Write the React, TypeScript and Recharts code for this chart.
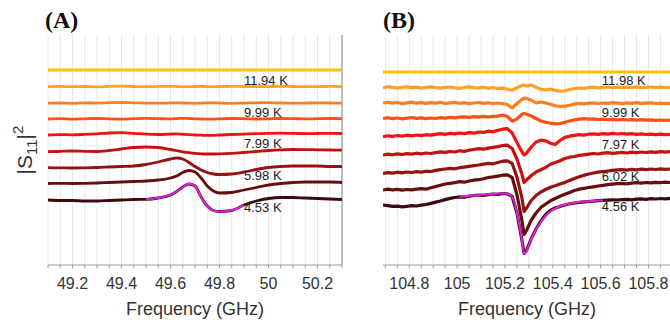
import { LineChart, Line, XAxis, YAxis, CartesianGrid, ReferenceDot } from 'recharts'

const FONT = '"Liberation Sans", Arial, sans-serif'
const COLORS = ['#ffc107', '#ffa028', '#ff7f20', '#ff5014', '#f01414', '#c41010', '#941214', '#670d0f', '#3c0a0a']
const FIT_COLOR = '#e020e0'
const Y_MAX = 230

// ---- panel A (49 GHz mode) ----
const A_FREQ = [49.1, 49.15, 49.2, 49.25, 49.3, 49.35, 49.4, 49.45, 49.5, 49.55, 49.6, 49.625, 49.65, 49.675, 49.7, 49.725, 49.75, 49.775, 49.8, 49.85, 49.9, 49.95, 50.0, 50.05, 50.1, 50.15, 50.2, 50.25, 50.3]
const A_T1 = [195, 195, 195, 195, 195, 195, 195, 195, 195, 195, 195, 195, 195, 195, 195, 195, 195, 195, 195, 195, 195, 195, 195, 195, 195, 195, 195, 195, 195]
const A_T2 = [178.4, 178.6, 178.3, 178.5, 178.2, 178.6, 178.8, 178.5, 178.3, 178.6, 178.7, 178.5, 178.4, 178.3, 178.5, 178.6, 178.4, 178.3, 178.5, 178.7, 178.5, 178.3, 178.4, 178.6, 178.5, 178.3, 178.4, 178.6, 178.5]
const A_T3 = [161.8, 162.0, 161.7, 162.1, 161.9, 162.3, 162.5, 162.2, 161.9, 161.8, 162.1, 162.2, 162.0, 161.8, 161.7, 161.9, 162.1, 162.2, 162.0, 161.7, 161.9, 162.2, 162.3, 162.0, 161.8, 161.9, 162.1, 162.0, 161.9]
const A_T4 = [146.0, 146.3, 145.8, 146.2, 146.5, 146.1, 145.9, 146.3, 146.6, 146.4, 146.1, 146.4, 146.7, 146.5, 146.2, 146.0, 145.8, 145.9, 146.2, 146.5, 146.3, 146.0, 146.2, 146.5, 146.4, 146.1, 146.3, 146.5, 146.3]
const A_T5 = [130.0, 130.4, 130.2, 130.6, 131.2, 132.0, 132.3, 131.6, 130.8, 130.5, 130.9, 131.1, 130.7, 130.3, 130.0, 129.8, 129.6, 129.7, 130.0, 130.5, 130.9, 131.3, 131.6, 131.8, 131.6, 131.4, 131.5, 131.7, 131.5]
const A_T6 = [113.3, 113.6, 114.0, 113.7, 113.5, 114.5, 116.0, 117.5, 118.0, 117.5, 115.5, 114.3, 113.2, 112.3, 111.6, 111.2, 111.0, 111.0, 111.1, 111.6, 112.5, 113.5, 114.5, 115.2, 115.5, 115.4, 115.2, 115.0, 114.8]
const A_T7 = [97.3, 97.1, 97.0, 97.2, 97.5, 98.0, 98.5, 99.0, 100.5, 103.0, 106.0, 107.0, 106.0, 102.5, 98.5, 95.0, 92.5, 91.0, 90.5, 91.0, 93.0, 95.5, 97.5, 98.5, 99.0, 99.0, 99.0, 98.5, 98.5]
const A_T8 = [81.5, 81.6, 81.5, 81.7, 82.0, 82.5, 83.0, 83.5, 84.0, 85.0, 87.0, 89.0, 92.5, 94.5, 93.0, 87.0, 79.0, 74.0, 72.0, 72.5, 75.0, 77.5, 80.0, 81.5, 82.5, 83.0, 83.0, 83.0, 82.5]
const A_T9 = [65.0, 64.5, 64.5, 64.0, 64.0, 64.5, 65.0, 65.5, 65.7, 67.0, 70.0, 73.5, 78.0, 81.0, 79.0, 68.0, 59.0, 54.5, 53.5, 54.5, 60.0, 64.0, 66.5, 67.5, 67.5, 67.0, 66.5, 66.0, 65.5]
const A_FIT = [null, null, null, null, null, null, null, null, 65.7, 67.0, 70.3, 73.5, 78.0, 81.2, 79.0, 68.0, 58.8, 54.3, 53.5, 54.8, 59.5, null, null, null, null, null, null, null, null]
const A_TICKS = [49.1, 49.15, 49.2, 49.25, 49.3, 49.35, 49.4, 49.45, 49.5, 49.55, 49.6, 49.65, 49.7, 49.75, 49.8, 49.85, 49.9, 49.95, 50, 50.05, 50.1, 50.15, 50.2, 50.25, 50.3]
const A_LABELED = [49.2, 49.4, 49.6, 49.8, 50, 50.2]
const A_TEMPS = ['11.94 K', '9.99 K', '7.99 K', '5.98 K', '4.53 K']
const A_TEMP_Y = [185, 153, 122, 90, 58]

// ---- panel B (105 GHz mode) ----
const B_FREQ = [
  104.69, 104.71, 104.73, 104.75, 104.77, 104.79, 104.81, 104.83, 104.85, 104.87,
  104.89, 104.91, 104.93, 104.95, 104.97, 104.99, 105.01, 105.03, 105.05, 105.07,
  105.09, 105.11, 105.13, 105.15, 105.17, 105.19, 105.21, 105.23, 105.25,
  105.27, 105.28,
  105.29, 105.31, 105.33, 105.35, 105.37, 105.39, 105.41, 105.43, 105.45, 105.47,
  105.49, 105.51, 105.53, 105.55, 105.57, 105.59, 105.61, 105.63, 105.65, 105.67,
  105.69, 105.71, 105.73, 105.75, 105.77, 105.79, 105.81, 105.83, 105.85, 105.87, 105.89,
]
const B_T1 = [
  193, 193, 193, 193, 193, 193, 193, 193, 193, 193,
  193, 193, 193, 193, 193, 193, 193, 193, 193, 193,
  193, 193, 193, 193, 193, 193, 193, 193, 193,
  193, 193,
  193, 193, 193, 193, 193, 193, 193, 193, 193, 193,
  193, 193, 193, 193, 193, 193, 193, 193, 193, 193,
  193, 193, 193, 193, 193, 193, 193, 193, 193, 193, 193,
]
const B_T2 = [
  177.2, 178.3, 177.6, 176.9, 177.8, 178.1, 177.3, 177.9, 176.8, 177.6,
  178.2, 177.4, 176.9, 177.7, 178.0, 177.2, 176.6, 177.5, 178.1, 177.3,
  177.0, 177.8, 176.7, 177.4, 176.5, 176.9, 175.8, 174.8, 177.2,
  179.5, 180.2,
  178.8, 180.0, 177.8, 175.6, 175.2, 175.8, 174.6, 173.8, 174.2, 175.5,
  176.4, 177.0, 176.6, 177.3, 177.8, 177.2, 177.6, 178.0, 177.4, 177.8,
  177.3, 177.9, 177.5, 178.1, 177.4, 177.7, 178.0, 177.3, 177.8, 177.5, 177.7,
]
const B_T3 = [
  162.0, 162.8, 161.9, 162.5, 161.4, 162.2, 162.9, 161.8, 162.3, 161.6,
  162.4, 161.9, 162.7, 161.5, 162.1, 162.6, 161.7, 162.3, 161.4, 162.0,
  162.5, 161.6, 162.2, 161.3, 162.0, 161.4, 160.5, 157.0, 161.5,
  165.5, 166.8,
  166.5, 164.8, 162.2, 163.0, 162.0, 160.8, 159.2, 158.5, 158.8, 159.8,
  160.9, 161.6, 161.2, 161.9, 162.2, 161.5, 162.0, 161.6, 162.3, 161.8,
  161.4, 162.1, 161.7, 162.3, 161.6, 161.9, 162.2, 161.5, 161.8, 161.4, 161.6,
]
const B_T4 = [
  146.5, 147.3, 146.4, 147.0, 146.2, 146.9, 147.5, 146.6, 147.1, 146.3,
  147.0, 146.5, 147.4, 146.8, 147.6, 147.1, 147.8, 148.2, 147.5, 148.4,
  147.9, 148.6, 148.0, 148.7, 148.9, 150.0, 148.5, 143.8, 146.0,
  150.5, 151.5,
  150.8, 149.0, 146.5, 144.0, 142.8, 141.8, 141.2, 141.5, 142.6, 144.0,
  145.2, 145.9, 146.3, 145.8, 146.1, 145.5, 145.9, 145.3, 145.7, 145.2,
  145.6, 145.0, 145.4, 144.8, 145.3, 144.9, 145.2, 144.6, 145.0, 144.7, 144.9,
]
const B_T5 = [
  128.3, 129.2, 128.6, 129.5, 128.9, 129.8, 129.1, 130.0, 129.4, 130.3,
  129.8, 130.6, 131.3, 130.7, 131.6, 131.1, 132.0, 131.4, 132.4, 131.8,
  133.0, 132.6, 133.8, 133.2, 134.6, 135.8, 136.4, 132.0, 122.5,
  113.5, 110.0,
  111.8, 118.0, 123.0, 124.8, 124.2, 121.8, 120.6, 124.5, 127.6, 128.8,
  129.6, 130.4, 129.9, 130.8, 131.2, 130.6, 131.4, 130.9, 131.6, 131.0,
  131.5, 130.8, 131.3, 130.6, 131.1, 130.5, 130.9, 130.4, 130.8, 130.3, 130.6,
]
const B_T6 = [
  110.0, 110.8, 110.2, 111.1, 110.5, 111.4, 110.9, 111.8, 111.2, 112.0,
  111.5, 112.4, 113.2, 112.6, 113.5, 113.0, 114.2, 113.6, 114.8, 115.5,
  116.3, 115.8, 116.9, 117.6, 118.4, 119.5, 119.8, 116.5, 106.0,
  91.5, 82.5,
  85.0, 89.5, 93.0, 95.2, 97.5, 100.8, 102.5, 104.2, 106.5, 107.8,
  108.5, 109.6, 110.2, 110.8, 111.5, 111.0, 111.8, 112.3, 111.7, 112.2,
  112.6, 112.0, 112.8, 112.3, 113.0, 112.5, 113.2, 112.7, 113.4, 112.9, 113.3,
]
const B_T7 = [
  91.7, 92.4, 91.9, 92.8, 92.2, 93.0, 92.5, 93.4, 92.9, 93.8,
  93.5, 94.6, 95.4, 96.0, 96.7, 96.2, 97.3, 97.9, 98.6, 99.4,
  100.0, 100.9, 101.6, 101.2, 102.5, 103.8, 104.2, 101.5, 88.0,
  68.0, 53.5,
  57.0, 64.5, 69.5, 73.0, 75.5, 77.8, 79.2, 81.0, 82.5, 84.6,
  86.5, 88.2, 89.6, 91.0, 92.0, 92.8, 93.5, 94.0, 94.6, 95.1,
  95.3, 94.8, 95.6, 95.1, 95.9, 95.4, 96.0, 95.5, 96.2, 95.7, 96.0,
]
const B_T8 = [
  75.0, 75.8, 75.2, 75.6, 74.9, 75.5, 75.1, 75.9, 76.4, 75.8,
  77.2, 78.5, 79.8, 81.0, 81.6, 82.3, 83.4, 82.8, 84.0, 84.9,
  85.3, 86.2, 87.5, 88.1, 88.9, 89.8, 90.2, 87.5, 70.5,
  45.5, 30.5,
  34.5, 45.0, 52.0, 57.5, 61.0, 64.2, 66.5, 68.8, 70.8, 72.6,
  74.5, 75.8, 76.6, 77.5, 78.2, 79.0, 79.6, 80.3, 80.9, 81.3,
  81.6, 81.2, 81.9, 82.4, 81.8, 82.5, 82.1, 82.7, 82.3, 82.8, 82.5,
]
const B_T9 = [
  60.0, 59.4, 58.6, 58.9, 58.2, 58.7, 59.3, 59.0, 59.8, 60.5,
  61.6, 62.9, 64.0, 65.4, 66.6, 67.5, 68.2, 67.8, 68.9, 69.5,
  70.0, 69.6, 70.4, 71.0, 70.6, 71.5, 71.2, 68.5, 52.0,
  26.0, 11.5,
  14.5, 26.5, 36.0, 44.0, 50.5, 54.5, 57.0, 58.6, 60.0, 61.2,
  62.0, 62.6, 63.1, 63.5, 63.9, 64.3, 64.6, 64.9, 65.2, 65.0,
  65.3, 65.6, 65.2, 65.8, 66.1, 65.7, 66.3, 66.0, 66.5, 66.2, 66.6,
]
const B_FIT = [
  null, null, null, null, null, null, null, null, null, null,
  null, null, null, null, null, null, 68.3, 68.8, 69.2, 69.6,
  70.0, 70.4, 70.8, 71.2, 71.5, 71.7, 71.2, 68.0, 52.0,
  26.0, 11.0,
  14.0, 26.0, 35.5, 43.0, 49.0, 53.5, 56.5, 58.7, 60.2, 61.3,
  62.2, 62.9, 63.4, 63.8, 64.1, 64.4, 64.6, null, null, null,
  null, null, null, null, null, null, null, null, null, null, null,
]
const B_TICKS = [104.7, 104.75, 104.8, 104.85, 104.9, 104.95, 105, 105.05, 105.1, 105.15, 105.2, 105.25, 105.3, 105.35, 105.4, 105.45, 105.5, 105.55, 105.6, 105.65, 105.7, 105.75, 105.8, 105.85]
const B_LABELED = [104.8, 105, 105.2, 105.4, 105.6, 105.8]
const B_TEMPS = ['11.98 K', '9.99 K', '7.97 K', '6.02 K', '4.56 K']
const B_TEMP_Y = [185, 152.7, 120.7, 88.3, 58.3]

function buildRows(freq: number[], series: number[][], fit: (number | null)[]) {
  return freq.map((f, i) => {
    const row: Record<string, number | null> = { f, fit: fit[i] }
    series.forEach((s, k) => { row['t' + k] = s[i] })
    return row
  })
}

const aRows = buildRows(A_FREQ, [A_T1, A_T2, A_T3, A_T4, A_T5, A_T6, A_T7, A_T8, A_T9], A_FIT)
const bRows = buildRows(B_FREQ, [B_T1, B_T2, B_T3, B_T4, B_T5, B_T6, B_T7, B_T8, B_T9], B_FIT)

interface PanelProps {
  rows: Record<string, number | null>[]
  domain: [number, number]
  ticks: number[]
  labeled: number[]
  temps: string[]
  tempY: number[]
  tempX: number
  width: number
  marginRight: number
  curve: 'monotone' | 'linear'
  strokeWidth: number
  rightBorder: boolean
}

function Panel({ rows, domain, ticks, labeled, temps, tempY, tempX, width, marginRight, curve, strokeWidth, rightBorder }: PanelProps) {
  const fmt = (v: number) => (labeled.some((m) => Math.abs(m - v) < 1e-6) ? String(v) : '')
  return (
    <LineChart width={width} height={320} data={rows} margin={{ top: 35, right: marginRight, left: 48, bottom: 15 }}>
      <CartesianGrid horizontal={false} verticalValues={ticks} stroke="#e8e8e8" />
      {/* frame: top edge, and right edge where it is inside the picture */}
      <CartesianGrid vertical={rightBorder} verticalValues={[domain[1]]} horizontalValues={[Y_MAX]} stroke="#a6a6a6" strokeWidth={1.4} />
      <XAxis
        dataKey="f"
        type="number"
        domain={domain}
        allowDataOverflow
        ticks={ticks}
        interval={0}
        tickFormatter={fmt}
        height={40}
        tickSize={3}
        tickMargin={10}
        stroke="#9a9a9a"
        tick={{ fill: '#333', fontSize: 16, fontFamily: FONT }}
      />
      <YAxis type="number" domain={[0, Y_MAX]} allowDataOverflow width={0} tick={false} tickLine={false} stroke="#9a9a9a" />
      {COLORS.map((c, k) => (
        <Line
          key={k}
          dataKey={'t' + k}
          type={curve}
          stroke={c}
          strokeWidth={k === 0 ? 3.2 : strokeWidth}
          strokeLinejoin="round"
          dot={false}
          isAnimationActive={false}
        />
      ))}
      <Line dataKey="fit" type="monotone" stroke={FIT_COLOR} strokeWidth={2} dot={false} connectNulls={false} isAnimationActive={false} />
      {temps.map((t, i) => (
        <ReferenceDot
          key={t}
          x={tempX}
          y={tempY[i]}
          r={0}
          ifOverflow="visible"
          shape={(p: any) => (
            <text x={p.cx} y={p.cy} dy="0.36em" fontSize={13} fill="#1c1c1c" fontFamily={FONT}>
              {t}
            </text>
          )}
        />
      ))}
    </LineChart>
  )
}

export default function App() {
  return (
    <div style={{ position: 'absolute', left: 0, top: 0, width: 670, height: 320, overflow: 'hidden', background: '#fff' }}>
      <div style={{ position: 'absolute', left: 0, top: 0 }}>
        <Panel rows={aRows} domain={[49.1, 50.3]} ticks={A_TICKS} labeled={A_LABELED} temps={A_TEMPS} tempY={A_TEMP_Y}
          tempX={49.9} width={350} marginRight={8} curve="monotone" strokeWidth={2.8} rightBorder />
      </div>
      <div style={{ position: 'absolute', left: 335, top: 0 }}>
        <Panel rows={bRows} domain={[104.69, 105.89]} ticks={B_TICKS} labeled={B_LABELED} temps={B_TEMPS} tempY={B_TEMP_Y}
          tempX={105.605} width={335} marginRight={0} curve="linear" strokeWidth={3.2} rightBorder={false} />
      </div>
      <svg width={670} height={320} style={{ position: 'absolute', left: 0, top: 0, pointerEvents: 'none' }}>
        <text x={45} y={28} fontSize={24} fontWeight="bold" fontFamily='"Liberation Serif", "Times New Roman", serif' fill="#111">(A)</text>
        <text x={383} y={28} fontSize={24} fontWeight="bold" fontFamily='"Liberation Serif", "Times New Roman", serif' fill="#111">(B)</text>
        <text transform="translate(32,150) rotate(-90)" textAnchor="middle" fontSize={21} fontFamily={FONT} fill="#333">
          |S<tspan dy={5} fontSize={15}>11</tspan><tspan dy={-5}>|</tspan><tspan dy={-9} fontSize={15}>2</tspan>
        </text>
        <text x={195} y={315} textAnchor="middle" fontSize={18} fontFamily={FONT} fill="#333">Frequency (GHz)</text>
        <text x={527} y={315} textAnchor="middle" fontSize={18} fontFamily={FONT} fill="#333">Frequency (GHz)</text>
      </svg>
    </div>
  )
}
